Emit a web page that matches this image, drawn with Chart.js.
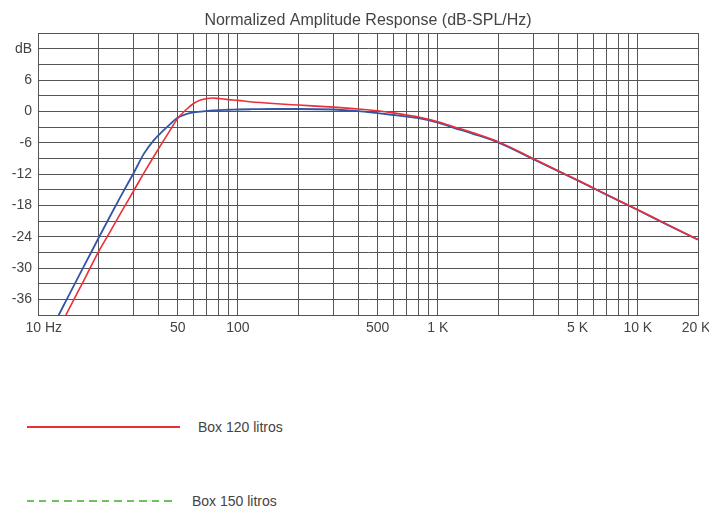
<!DOCTYPE html>
<html>
<head>
<meta charset="utf-8">
<title>Normalized Amplitude Response</title>
<script src="https://cdn.jsdelivr.net/npm/chart.js@4.4.0/dist/chart.umd.min.js"></script>
<style>
  body { margin: 0; background: #fff; font-family: 'Liberation Sans', Arial, sans-serif; }
  #wrap { position: relative; width: 709px; height: 506px; overflow: hidden; }
  #chart { position: absolute; left: 0; top: 0; }
  .leg-line { position: absolute; left: 27px; height: 1.5px; }
  .leg-text { position: absolute; font-size: 14px; color: #444; line-height: 16px; white-space: nowrap; }
</style>
</head>
<body>
<div id="wrap">
  <canvas id="chart" width="709" height="345"></canvas>
  <div id="legend"></div>
</div>
<script>
// frequencies (Hz) shared by both curves
const freqs = [12, 12.7, 13.8, 15, 17, 20, 23, 26, 30, 34, 38, 42, 46, 50, 55, 60, 65, 70, 75, 80,
               90, 100, 115, 150, 200, 300, 400, 500, 600, 750, 800, 1000, 1200, 1500, 2000, 3000, 4000, 5000,
               7000, 10000, 14000, 20000];

// Box 120 litros (red)
const box120 = [-43.5, -41.7, -39.0, -36.3, -32.3, -27.0, -23.0, -19.4, -15.3, -11.7, -8.6, -5.9, -3.5, -1.35, 0.3, 1.5, 2.15, 2.45, 2.55, 2.45,
                2.25, 2.1, 1.85, 1.5, 1.2, 0.8, 0.45, 0.1, -0.3, -0.9, -1.1, -2.0, -2.95, -4.1, -5.8, -9.05, -11.4, -13.15,
                -15.95, -18.85, -21.65, -24.55];

// Box 150 litros (blue)
const box150 = [-40.8, -39.0, -36.3, -33.6, -29.6, -24.4, -20.0, -16.2, -11.9, -8.0, -5.5, -3.8, -2.4, -1.2, -0.55, -0.2, -0.05, 0.1, 0.2, 0.25,
                0.3, 0.35, 0.4, 0.45, 0.45, 0.35, 0.05, -0.35, -0.7, -1.15, -1.3, -2.15, -3.15, -4.3, -5.95, -9.15, -11.45, -13.25,
                -16.0, -18.9, -21.7, -24.6];

const seriesLabels = ['Box 120 litros', 'Box 150 litros'];

// axis ticks / grid
const xGridValues = [10, 20, 30, 40, 50, 60, 70, 80, 90, 100, 200, 300, 400, 500, 600, 700, 800, 900,
                     1000, 2000, 3000, 4000, 5000, 6000, 7000, 8000, 9000, 10000, 20000];
const xLabelValues = [10, 50, 100, 500, 1000, 5000, 10000, 20000];
const xLabelTexts = ['   10 Hz', '50', '100', '500', '1 K', '5 K', '10 K', '20 K '];

const yGridValues = [-39, -36, -33, -30, -27, -24, -21, -18, -15, -12, -9, -6, -3, 0, 3, 6, 9, 12, 15];
const yLabelValues = [12, 6, 0, -6, -12, -18, -24, -30, -36];
const yLabelTexts = ['dB', '6', '0', '-6', '-12', '-18', '-24', '-30', '-36'];

const FONT = "'Liberation Sans', Arial, sans-serif";
const TEXT = '#444';
const GRID = '#555';

const toPoints = vals => freqs.map((f, i) => ({ x: f, y: vals[i] }));

new Chart(document.getElementById('chart').getContext('2d'), {
    type: 'line',
    data: {
        datasets: [
            {
                label: seriesLabels[0],
                data: toPoints(box120),
                borderColor: '#ec2f36',
                borderWidth: 1.6,
                pointRadius: 0,
                cubicInterpolationMode: 'monotone'
            },
            {
                label: seriesLabels[1],
                data: toPoints(box150),
                borderColor: '#3455a6',
                borderWidth: 1.8,
                pointRadius: 0,
                cubicInterpolationMode: 'monotone'
            }
        ]
    },
    options: {
        responsive: false,
        animation: false,
        layout: { padding: { left: 0, right: 11, top: 0, bottom: 0 } },
        plugins: {
            legend: { display: false },
            tooltip: { enabled: false },
            title: {
                display: true,
                fullSize: false,
                text: 'Normalized Amplitude Response (dB-SPL/Hz)',
                color: TEXT,
                font: { family: FONT, size: 16, weight: 'normal' },
                padding: { top: 11, bottom: 2.8 }
            }
        },
        scales: {
            x: {
                type: 'logarithmic',
                min: 10,
                max: 20000,
                afterBuildTicks: scale => { scale.ticks = xGridValues.map(v => ({ value: v })); },
                afterFit: scale => { scale.height = 30; scale.paddingLeft = 0; scale.paddingRight = 0; },
                grid: { color: GRID, lineWidth: 1, drawTicks: false },
                border: { display: true, color: GRID },
                ticks: {
                    autoSkip: false,
                    maxRotation: 0,
                    padding: 5,
                    color: TEXT,
                    font: { family: FONT, size: 14 },
                    callback: function (value) {
                        const i = xLabelValues.indexOf(value);
                        return i >= 0 ? xLabelTexts[i] : '';
                    }
                }
            },
            y: {
                type: 'linear',
                min: -39,
                max: 15,
                afterBuildTicks: scale => { scale.ticks = yGridValues.map(v => ({ value: v })); },
                afterFit: scale => { scale.width = 38; scale.paddingTop = 0; scale.paddingBottom = 0; },
                grid: { color: GRID, lineWidth: 1, drawTicks: false },
                border: { display: true, color: GRID },
                ticks: {
                    autoSkip: false,
                    padding: 6,
                    color: TEXT,
                    font: { family: FONT, size: 14 },
                    callback: function (value) {
                        const i = yLabelValues.indexOf(value);
                        return i >= 0 ? yLabelTexts[i] : '';
                    }
                }
            }
        }
    }
});

// legend (as drawn in the original: second entry shown green dashed)
const legendStyles = [
    { y: 427, lineW: 153, textX: 198, bg: '#ec2f36' },
    { y: 501, lineW: 148, textX: 192, bg: 'repeating-linear-gradient(to right, #6cc35a 0 7px, transparent 7px 12.5px)' }
];
const legend = document.getElementById('legend');
seriesLabels.forEach((lbl, i) => {
    const s = legendStyles[i];
    const line = document.createElement('div');
    line.className = 'leg-line';
    line.style.top = (s.y - 1) + 'px';
    line.style.width = s.lineW + 'px';
    line.style.background = s.bg;
    legend.appendChild(line);

    const txt = document.createElement('div');
    txt.className = 'leg-text';
    txt.style.left = s.textX + 'px';
    txt.style.top = (s.y - 8) + 'px';
    txt.textContent = lbl;
    legend.appendChild(txt);
});
</script>
</body>
</html>
